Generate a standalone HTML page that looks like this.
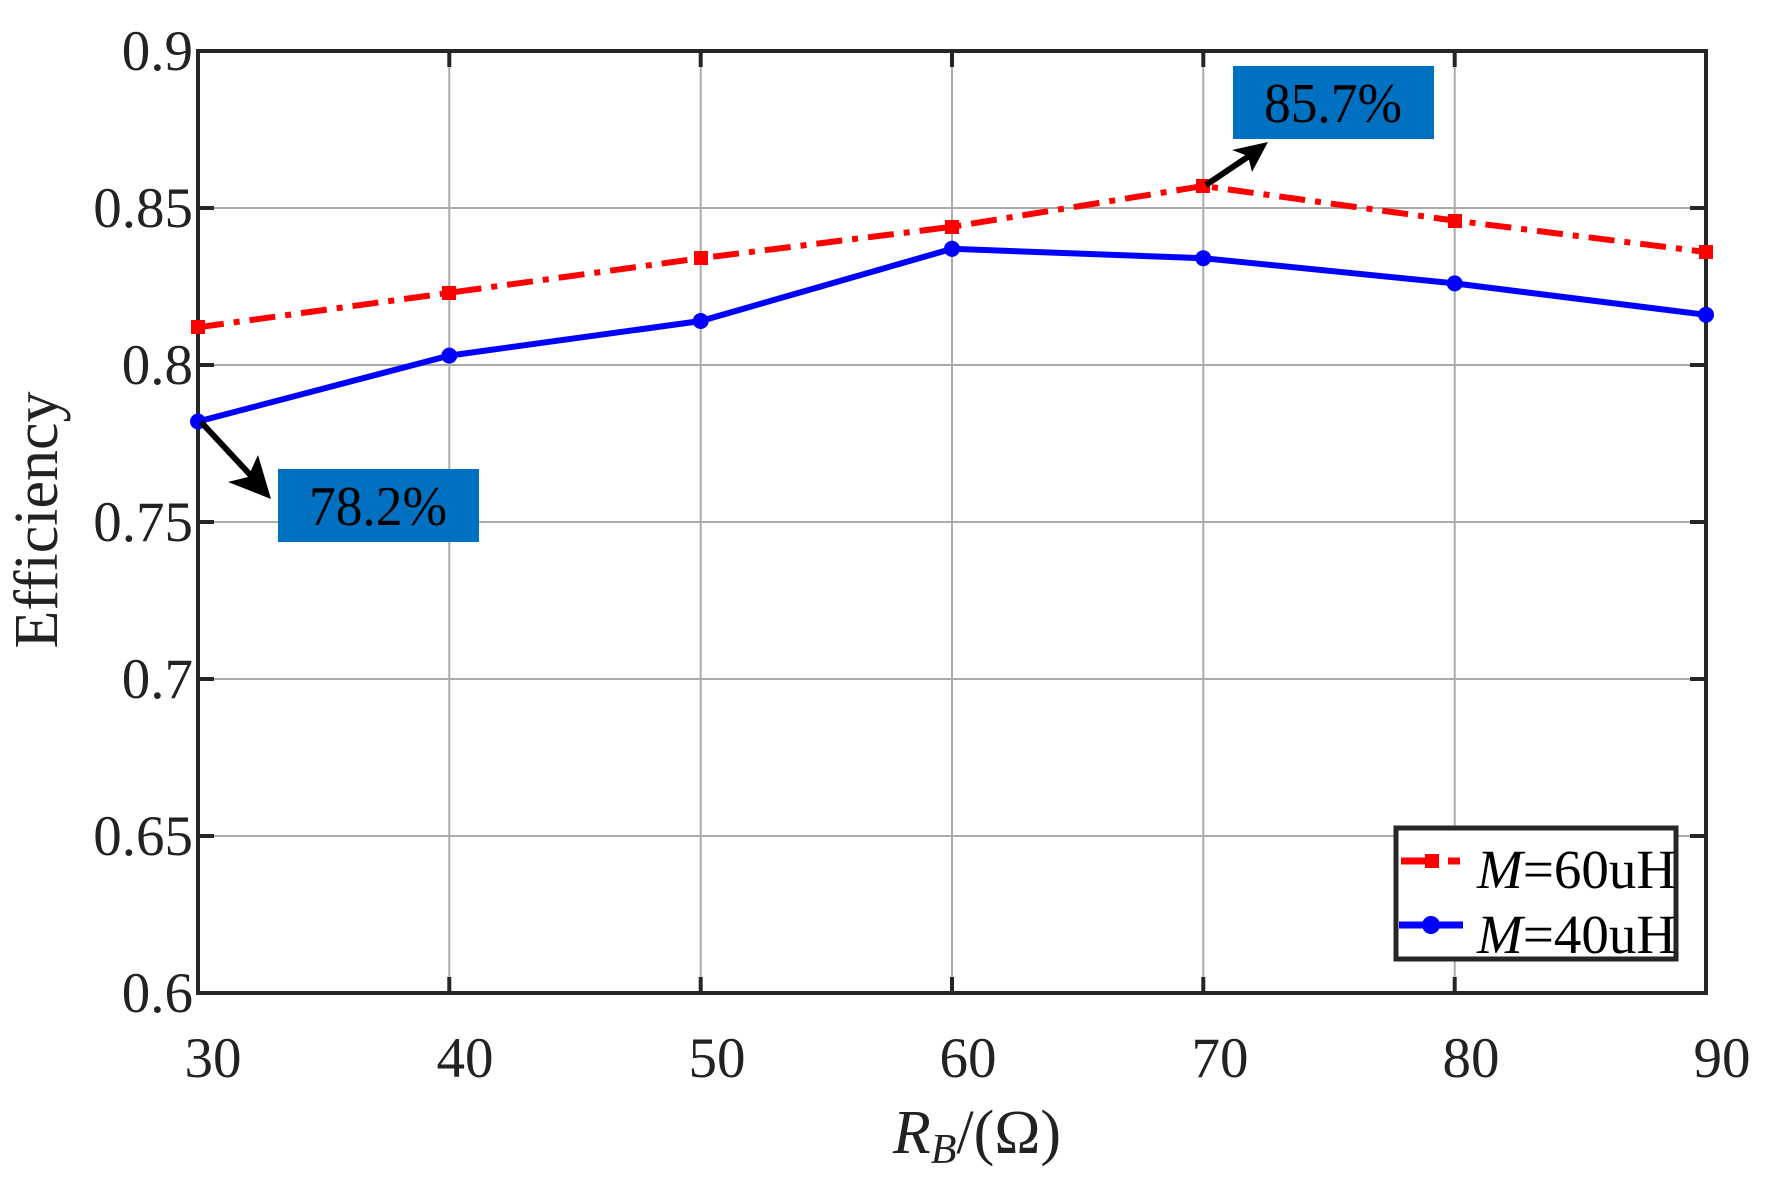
<!DOCTYPE html>
<html><head><meta charset="utf-8"><style>
html,body{margin:0;padding:0;background:#fff;}
svg{display:block;}
text{font-family:"Liberation Serif",serif;fill:#222;}
</style></head><body>
<svg width="1788" height="1187" viewBox="0 0 1788 1187" xmlns="http://www.w3.org/2000/svg">
<g stroke="#aaa" stroke-width="2">
<line x1="449.3" y1="51" x2="449.3" y2="993"/>
<line x1="700.7" y1="51" x2="700.7" y2="993"/>
<line x1="952" y1="51" x2="952" y2="993"/>
<line x1="1203.3" y1="51" x2="1203.3" y2="993"/>
<line x1="1454.7" y1="51" x2="1454.7" y2="993"/>
<line x1="198" y1="208" x2="1706" y2="208"/>
<line x1="198" y1="365" x2="1706" y2="365"/>
<line x1="198" y1="522" x2="1706" y2="522"/>
<line x1="198" y1="679" x2="1706" y2="679"/>
<line x1="198" y1="836" x2="1706" y2="836"/>
</g>
<g stroke="#262626" stroke-width="4">
<rect x="198" y="51" width="1508" height="942" fill="none"/>
<path d="M449.3 993v-16M700.7 993v-16M952 993v-16M1203.3 993v-16M1454.7 993v-16M449.3 51v16M700.7 51v16M952 51v16M1203.3 51v16M1454.7 51v16M198 208h16M198 365h16M198 522h16M198 679h16M198 836h16M1706 208h-16M1706 365h-16M1706 522h-16M1706 679h-16M1706 836h-16"/>
</g>
<!-- red series -->
<polyline fill="none" stroke="#f00" stroke-width="6" stroke-dasharray="26,10,6,10" points="198,327.3 449.3,292.8 700.7,258.2 952,226.8 1203.3,186 1454.7,220.6 1706,252"/>
<g fill="#f00">
<rect x="191" y="320" width="14" height="14"/><rect x="442" y="286" width="14" height="14"/><rect x="694" y="251" width="14" height="14"/><rect x="945" y="220" width="14" height="14"/><rect x="1196" y="179" width="14" height="14"/><rect x="1448" y="214" width="14" height="14"/><rect x="1699" y="245" width="14" height="14"/>
</g>
<!-- blue series -->
<polyline fill="none" stroke="#00f" stroke-width="6" points="198,421.5 449.3,355.6 700.7,321 952,248.8 1203.3,258.2 1454.7,283.4 1706,314.8"/>
<g fill="#00f">
<circle cx="198" cy="421.5" r="8"/><circle cx="449.3" cy="355.6" r="8"/><circle cx="700.7" cy="321" r="8"/><circle cx="952" cy="248.8" r="8"/><circle cx="1203.3" cy="258.2" r="8"/><circle cx="1454.7" cy="283.4" r="8"/><circle cx="1706" cy="314.8" r="8"/>
</g>
<!-- annotations -->
<rect x="278" y="469" width="201" height="73" fill="#0070c0"/>
<text x="378" y="525" font-size="56" text-anchor="middle" style="fill:#000" textLength="138" lengthAdjust="spacingAndGlyphs">78.2%</text>
<line x1="201" y1="422" x2="255" y2="480" stroke="#000" stroke-width="6"/>
<path d="M271 499 L228 482 L248 477 L258 455 Z" fill="#000"/>
<rect x="1233" y="66" width="201" height="73" fill="#0070c0"/>
<text x="1333" y="122" font-size="56" text-anchor="middle" style="fill:#000" textLength="138" lengthAdjust="spacingAndGlyphs">85.7%</text>
<line x1="1206" y1="185" x2="1252" y2="154" stroke="#000" stroke-width="6"/>
<path d="M1268 142 L1252 172 L1248 156 L1232 150 Z" fill="#000"/>
<!-- legend -->
<rect x="1396" y="828" width="280" height="131" fill="#fff" stroke="#262626" stroke-width="5"/>
<line x1="1401" y1="861" x2="1434" y2="861" stroke="#f00" stroke-width="7"/>
<rect x="1425" y="854" width="14" height="14" fill="#f00"/>
<line x1="1448" y1="861" x2="1460" y2="861" stroke="#f00" stroke-width="7"/>
<line x1="1399" y1="925" x2="1463" y2="925" stroke="#00f" stroke-width="7"/>
<circle cx="1431" cy="925" r="9" fill="#00f"/>
<text x="1477" y="888" font-size="55" style="fill:#000"><tspan font-style="italic">M</tspan>=60uH</text>
<text x="1477" y="953" font-size="55" style="fill:#000"><tspan font-style="italic">M</tspan>=40uH</text>
<!-- y tick labels -->
<g font-size="57" text-anchor="end">
<text x="193" y="70">0.9</text>
<text x="193" y="227">0.85</text>
<text x="193" y="384">0.8</text>
<text x="193" y="541">0.75</text>
<text x="193" y="698">0.7</text>
<text x="193" y="855">0.65</text>
<text x="193" y="1012">0.6</text>
</g>
<g font-size="57" text-anchor="middle">
<text x="213" y="1077">30</text>
<text x="465" y="1077">40</text>
<text x="717" y="1077">50</text>
<text x="968" y="1077">60</text>
<text x="1220" y="1077">70</text>
<text x="1471" y="1077">80</text>
<text x="1722" y="1077">90</text>
</g>
<text x="977" y="1153" font-size="62" text-anchor="middle"><tspan font-style="italic">R</tspan><tspan font-style="italic" font-size="42" dy="10">B</tspan><tspan dy="-10">/(Ω)</tspan></text>
<text transform="translate(57,520) rotate(-90)" font-size="62" text-anchor="middle">Efficiency</text>
</svg>
</body></html>
